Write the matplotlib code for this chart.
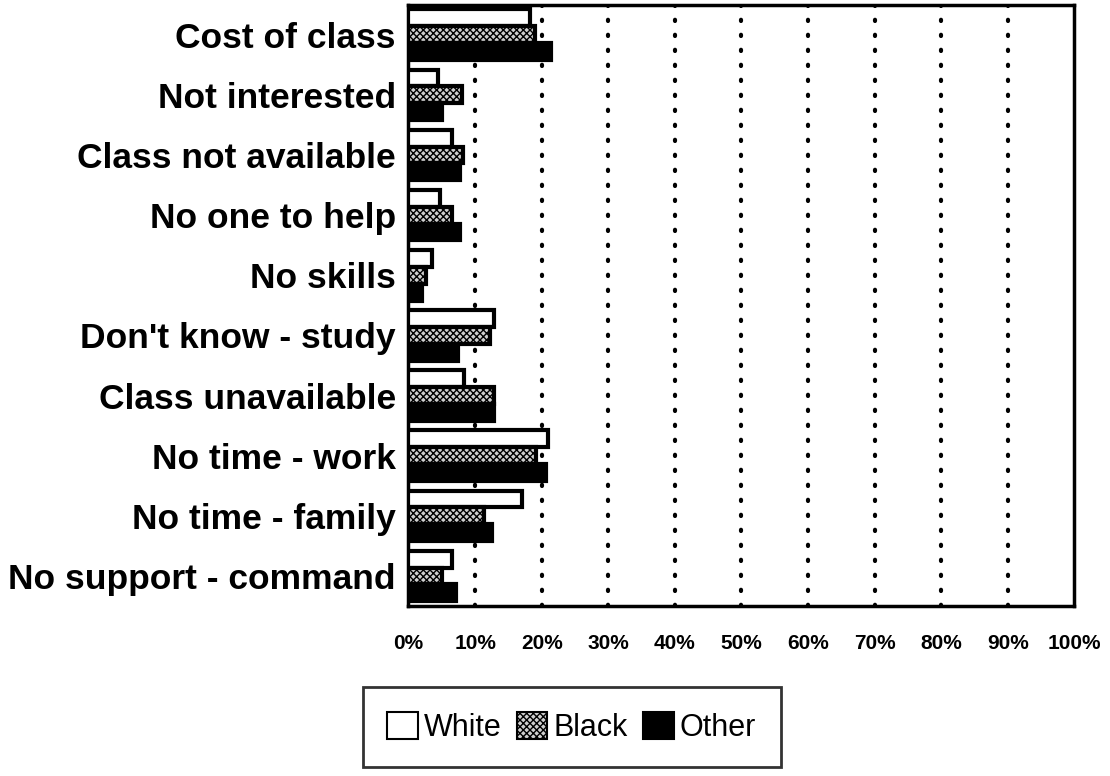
import numpy as np
import matplotlib
matplotlib.use('Agg')
import matplotlib.pyplot as plt
from matplotlib.patches import Patch

# reasons for not taking a class, percent of respondents per group
reasons = ["Cost of class", "Not interested", "Class not available",
           "No one to help", "No skills", "Don't know - study",
           "Class unavailable", "No time - work", "No time - family",
           "No support - command"]
white = [18.2, 4.5, 6.5, 4.8, 3.6, 12.8, 8.4, 20.9, 17.1, 6.6]
black = [19.0, 8.0, 8.2, 6.5, 2.7, 12.2, 12.8, 19.2, 11.4, 5.0]
other = [21.4, 5.0, 7.8, 7.7, 2.0, 7.4, 12.8, 20.7, 12.6, 7.2]
xticks = list(range(0, 101, 10))

plt.rcParams['font.family'] = ['Liberation Sans', 'DejaVu Sans']
plt.rcParams['hatch.linewidth'] = 1.0

fig = plt.figure(figsize=(11.1, 7.76), dpi=100)
ax = fig.add_axes([0.368, 0.219, 0.600, 0.775])

y = np.arange(len(reasons))
h = 0.28
off = 0.28
ax.barh(y - off, white, height=h, color='white', edgecolor='black', linewidth=3, zorder=3)
ax.barh(y, black, height=h, color='#cfcfcf', edgecolor='black', hatch='xxxxx', linewidth=3, zorder=3)
ax.barh(y + off, other, height=h, color='black', edgecolor='black', linewidth=3, zorder=3)

ax.set_xlim(0, 100)
ax.set_ylim(len(reasons) - 0.5, -0.5)
ax.set_yticks(y)
ax.set_yticklabels(reasons, fontsize=25.5, fontweight='bold')
ax.set_xticks(xticks)
ax.set_xticklabels([f"{t}%" for t in xticks], fontsize=15, fontweight='bold')
ax.tick_params(axis='y', length=0, pad=9)
ax.tick_params(axis='x', length=0, pad=20)

# dotted vertical gridlines
for t in xticks[1:-1]:
    ax.axvline(t, color='black', linewidth=3, linestyle=(0, (0.3, 3.3)),
               dash_capstyle='round', zorder=1)

for s in ax.spines.values():
    s.set_linewidth(2.5)

handles = [Patch(facecolor='white', edgecolor='black', linewidth=1.5),
           Patch(facecolor='#cfcfcf', edgecolor='black', hatch='xxxxx', linewidth=1.5),
           Patch(facecolor='black', edgecolor='black', linewidth=1.5)]
leg = fig.legend(handles, ["White", "Black", "Other"], loc='center',
                 bbox_to_anchor=(0.515, 0.063), ncol=3, frameon=True,
                 fancybox=False, edgecolor='black', fontsize=22,
                 handlelength=1.0, handleheight=1.0, handletextpad=0.2,
                 columnspacing=0.5, borderpad=0.8)
leg.get_frame().set_linewidth(2)

fig.savefig('out.png', dpi=100)
